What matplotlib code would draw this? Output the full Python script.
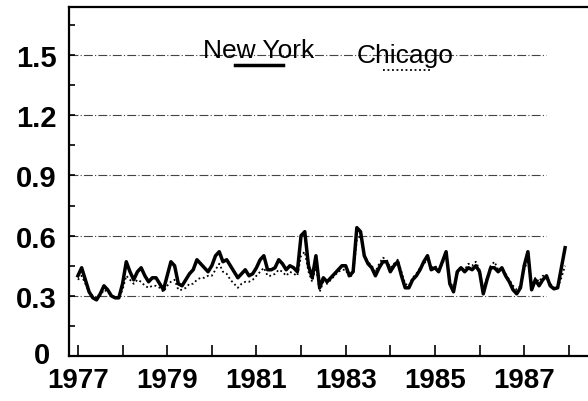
import matplotlib.pyplot as plt
from matplotlib.lines import Line2D
from matplotlib.transforms import ScaledTranslation
import numpy as np

plt.rcParams['font.family'] = ['Liberation Sans', 'DejaVu Sans']

# monthly values, Jan 1977 - Dec 1987
new_york = [
    0.40, 0.44, 0.38, 0.32, 0.29, 0.28, 0.31, 0.35, 0.33, 0.30, 0.29, 0.29,  # 1977
    0.36, 0.47, 0.42, 0.38, 0.42, 0.44, 0.40, 0.37, 0.39, 0.39, 0.36, 0.33,  # 1978
    0.40, 0.47, 0.45, 0.36, 0.35, 0.38, 0.41, 0.43, 0.48, 0.46, 0.44, 0.42,  # 1979
    0.45, 0.50, 0.52, 0.47, 0.48, 0.45, 0.42, 0.39, 0.41, 0.43, 0.40, 0.41,  # 1980
    0.44, 0.48, 0.50, 0.43, 0.43, 0.44, 0.48, 0.46, 0.43, 0.45, 0.44, 0.42,  # 1981
    0.60, 0.62, 0.45, 0.39, 0.50, 0.34, 0.39, 0.37, 0.39, 0.41, 0.43, 0.45,  # 1982
    0.45, 0.40, 0.42, 0.64, 0.62, 0.50, 0.46, 0.44, 0.40, 0.44, 0.47, 0.47,  # 1983
    0.42, 0.45, 0.47, 0.40, 0.34, 0.34, 0.38, 0.40, 0.43, 0.47, 0.50, 0.43,  # 1984
    0.44, 0.42, 0.47, 0.52, 0.36, 0.32, 0.42, 0.44, 0.42, 0.44, 0.43, 0.45,  # 1985
    0.42, 0.31, 0.38, 0.44, 0.44, 0.42, 0.44, 0.40, 0.37, 0.33, 0.31, 0.34,  # 1986
    0.45, 0.52, 0.33, 0.38, 0.35, 0.38, 0.40, 0.35, 0.335, 0.34, 0.44, 0.54,  # 1987
]
chicago = [
    0.38, 0.40, 0.36, 0.32, 0.30, 0.29, 0.30, 0.33, 0.32, 0.30, 0.29, 0.29,
    0.33, 0.40, 0.38, 0.36, 0.38, 0.37, 0.35, 0.34, 0.35, 0.35, 0.34, 0.32,
    0.35, 0.37, 0.38, 0.33, 0.33, 0.34, 0.36, 0.36, 0.38, 0.39, 0.39, 0.40,
    0.40, 0.43, 0.46, 0.42, 0.41, 0.38, 0.36, 0.34, 0.36, 0.37, 0.37, 0.38,
    0.40, 0.42, 0.44, 0.40, 0.40, 0.41, 0.43, 0.42, 0.40, 0.42, 0.41, 0.40,
    0.50, 0.52, 0.42, 0.37, 0.45, 0.32, 0.37, 0.36, 0.38, 0.40, 0.42, 0.43,
    0.43, 0.39, 0.41, 0.58, 0.60, 0.50, 0.47, 0.45, 0.42, 0.46, 0.49, 0.48,
    0.44, 0.46, 0.48, 0.42, 0.36, 0.35, 0.39, 0.41, 0.44, 0.46, 0.48, 0.44,
    0.45, 0.43, 0.46, 0.50, 0.38, 0.33, 0.41, 0.44, 0.43, 0.46, 0.45, 0.47,
    0.43, 0.33, 0.39, 0.45, 0.47, 0.43, 0.44, 0.41, 0.38, 0.35, 0.33, 0.35,
    0.43, 0.48, 0.35, 0.39, 0.37, 0.40, 0.40, 0.36, 0.34, 0.34, 0.39, 0.45,
]
start_year = 1977
year_ticks = list(range(1977, 1989))
year_labels = ['1977', '', '1979', '', '1981', '', '1983', '', '1985', '', '1987', '']
y_ticks = [0, 0.3, 0.6, 0.9, 1.2, 1.5]
y_labels = ['0', '0.3', '0.6', '0.9', '1.2', '1.5']

t = start_year + np.arange(len(new_york)) / 12

fig = plt.figure(figsize=(5.88, 4.02), dpi=100)
ax = fig.add_axes([69/588, 45/402, 519/588, 349/402])

for y in y_ticks[1:]:
    ax.axhline(y, xmax=0.92, color='#444444', lw=0.8, ls=(0, (8, 2, 1, 2)), zorder=1)

ax.plot(t, chicago, color='black', lw=1.3, ls=(0, (1, 1.5)), zorder=2)
ax.plot(t, new_york, color='black', lw=2.5, zorder=3)

ax.set_xlim(1976.8, 1988.43)
ax.set_ylim(0, 1.74)
ax.set_xticks(year_ticks)
ax.set_xticklabels(year_labels)
ax.set_yticks(y_ticks)
ax.set_yticklabels(y_labels)
ax.set_yticks(np.arange(0.15, 1.74, 0.3), minor=True)
ax.tick_params(axis='x', direction='in', length=8, width=1.2, pad=8,
               labelsize=20)
ax.tick_params(axis='y', which='both', direction='in', length=4, width=1.2,
               pad=9, labelsize=21)
for lab in ax.get_xticklabels() + ax.get_yticklabels():
    lab.set_fontweight('bold')

# the "0" sits a little left and up, clear of "1977"
zero = ax.get_yticklabels()[0]
zero.set_transform(zero.get_transform()
                   + ScaledTranslation(-0.06, 0.04, fig.dpi_scale_trans))

ax.spines['right'].set_visible(False)
for s in ['left', 'bottom', 'top']:
    ax.spines[s].set_linewidth(1.6)

# legend: label above, line sample below
ax.text(0.366, 0.857, 'New York', transform=ax.transAxes, ha='center',
        va='baseline', fontsize=19)
ax.add_line(Line2D([0.320, 0.412], [0.834, 0.834], transform=ax.transAxes,
                   color='black', lw=2.5))
ax.text(0.647, 0.842, 'Chicago', transform=ax.transAxes, ha='center',
        va='baseline', fontsize=19)
ax.add_line(Line2D([0.605, 0.699], [0.819, 0.819], transform=ax.transAxes,
                   color='black', lw=1.3, ls=(0, (1, 1.5))))

fig.savefig('out.png', dpi=100)
